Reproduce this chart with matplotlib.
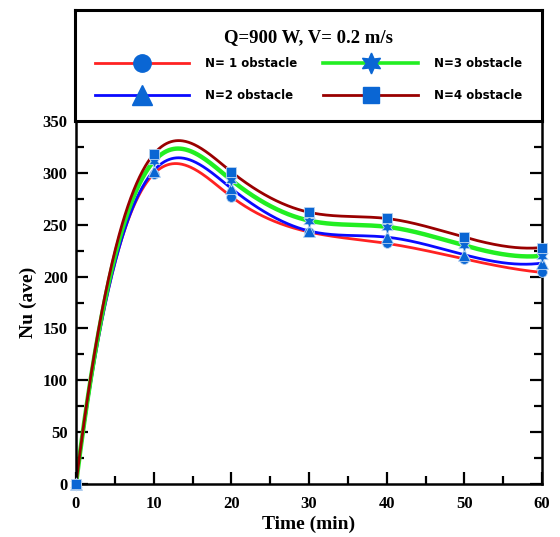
import numpy as np
import matplotlib
matplotlib.use("Agg")
import matplotlib.pyplot as plt
from matplotlib.lines import Line2D
from matplotlib.ticker import MultipleLocator

# Average Nusselt number over time for different obstacle counts
time_min = [0, 10, 20, 30, 40, 50, 60]
nu_n1 = [0, 299, 277, 243, 232, 217, 204]
nu_n2 = [0, 302, 285, 244, 238, 221, 213]
nu_n3 = [0, 311, 293, 254, 248, 230, 220]
nu_n4 = [0, 318, 301, 262, 256, 238, 228]

labels = ["N= 1 obstacle", "N=2 obstacle", "N=3 obstacle", "N=4 obstacle"]
title = "Q=900 W, V= 0.2 m/s"
xticks = [0, 10, 20, 30, 40, 50, 60]
yticks = [0, 50, 100, 150, 200, 250, 300, 350]


def spline_not_a_knot(x, y, xs):
    """Cubic spline through the points with not-a-knot end conditions."""
    x = np.asarray(x, float)
    y = np.asarray(y, float)
    n = len(x)
    h = np.diff(x)
    A = np.zeros((n, n))
    b = np.zeros(n)
    A[0, 0], A[0, 1], A[0, 2] = -h[1], h[0] + h[1], -h[0]
    A[-1, -3], A[-1, -2], A[-1, -1] = -h[-1], h[-1] + h[-2], -h[-2]
    for i in range(1, n - 1):
        A[i, i - 1] = h[i - 1]
        A[i, i] = 2 * (h[i - 1] + h[i])
        A[i, i + 1] = h[i]
        b[i] = 6 * ((y[i + 1] - y[i]) / h[i] - (y[i] - y[i - 1]) / h[i - 1])
    M = np.linalg.solve(A, b)
    idx = np.clip(np.searchsorted(x, xs) - 1, 0, n - 2)
    x0, x1 = x[idx], x[idx + 1]
    hh = x1 - x0
    a = (x1 - xs) / hh
    c = (xs - x0) / hh
    return (a * y[idx] + c * y[idx + 1]
            + ((a ** 3 - a) * M[idx] + (c ** 3 - c) * M[idx + 1]) * hh ** 2 / 6)


serif = "Liberation Serif"
sans = "DejaVu Sans"
mcolor = "#0a66d4"
medge = "#b9d3f0"

fig = plt.figure(figsize=(5.6, 5.37), dpi=100)
ax = fig.add_axes([76 / 560, 53 / 537, 466 / 560, 363 / 537])

series = [
    (nu_n1, "#ff2222", 2.0, "o", 7.0),
    (nu_n2, "#0a0aff", 2.0, "^", 8.0),
    (nu_n3, "#22ee22", 3.2, (6, 1, 0), 9.5),
    (nu_n4, "#990000", 2.0, "s", 6.8),
]

ts = np.linspace(0, 60, 800)
for vals, col, lw, _, _ in series:
    ax.plot(ts, spline_not_a_knot(time_min, vals, ts), color=col, lw=lw, zorder=2)
for vals, _, _, mk, ms in series:
    ax.plot(time_min, vals, ls="none", marker=mk, ms=ms, color=mcolor,
            mec=medge, mew=0.6, zorder=4, clip_on=False)

ax.set_xlim(0, 60)
ax.set_ylim(0, 350)
ax.set_xticks(xticks)
ax.set_yticks(yticks)
ax.xaxis.set_minor_locator(MultipleLocator(5))
ax.yaxis.set_minor_locator(MultipleLocator(25))
ax.tick_params(which="both", direction="in", top=False, right=True, width=1.6)
ax.tick_params(which="major", length=8.5)
ax.tick_params(which="minor", length=5.5)
ax.tick_params(axis="x", pad=8.5)
ax.tick_params(axis="y", pad=6)
for s in ax.spines.values():
    s.set_linewidth(1.8)
for lab in ax.get_xticklabels() + ax.get_yticklabels():
    lab.set_fontfamily(serif)
    lab.set_fontweight("bold")
    lab.set_fontsize(12)
ax.set_xlabel("Time (min)", fontfamily=serif, fontweight="bold", fontsize=14, labelpad=3)
ax.set_ylabel("Nu (ave)", fontfamily=serif, fontweight="bold", fontsize=14, labelpad=4)

# Legend panel above the plot area
lax = fig.add_axes([75 / 560, 416 / 537, 467 / 560, 111 / 537])
lax.set_xticks([])
lax.set_yticks([])
for s in lax.spines.values():
    s.set_linewidth(2.2)

handles = [
    Line2D([], [], color=series[0][1], lw=2, marker="o", ms=12.5, mfc=mcolor, mec=mcolor),
    Line2D([], [], color=series[1][1], lw=2, marker="^", ms=14, mfc=mcolor, mec=mcolor),
    Line2D([], [], color=series[2][1], lw=2.6, marker=(6, 1, 0), ms=15, mfc=mcolor, mec=mcolor),
    Line2D([], [], color=series[3][1], lw=2, marker="s", ms=11, mfc=mcolor, mec=mcolor),
]
leg = lax.legend(handles, labels, ncol=2, loc="center", frameon=False,
                 title=title, numpoints=1,
                 prop={"family": sans, "weight": "bold", "size": 8.5},
                 title_fontproperties={"family": serif, "weight": "bold", "size": 13.5},
                 handlelength=8.0, handletextpad=1.35, columnspacing=2.2,
                 labelspacing=1.6, borderaxespad=0.0)
leg._legend_box.sep = 8

fig.savefig("out.png", dpi=100)
